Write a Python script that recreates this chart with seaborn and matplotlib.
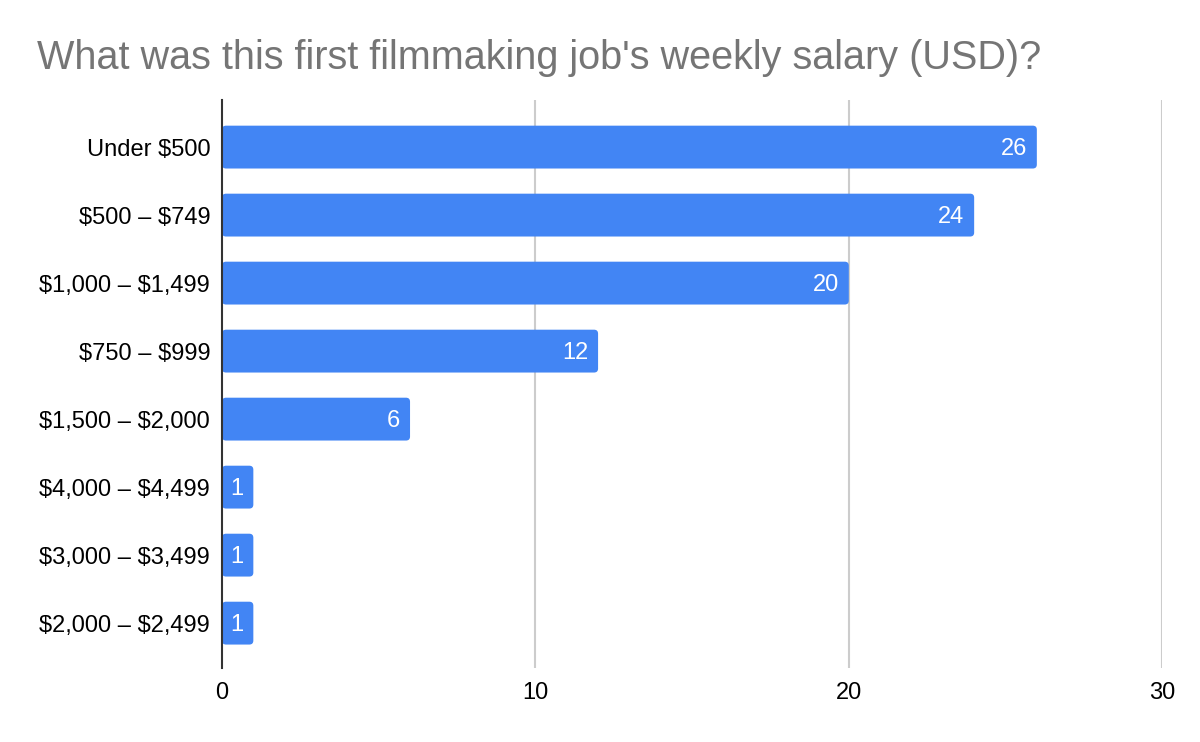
import matplotlib
matplotlib.use("Agg")
import matplotlib.pyplot as plt
import seaborn as sns
import pandas as pd
from matplotlib.patches import FancyBboxPatch

# Survey answers, ordered by count
salary_ranges = ["Under $500", "$500 – $749", "$1,000 – $1,499", "$750 – $999",
                 "$1,500 – $2,000", "$4,000 – $4,499", "$3,000 – $3,499", "$2,000 – $2,499"]
counts = [26, 24, 20, 12, 6, 1, 1, 1]
x_ticks = [0, 10, 20, 30]

df = pd.DataFrame({"Salary": salary_ranges, "Count": counts})

sns.set_style("white")
plt.rcParams["font.family"] = ["Liberation Sans", "DejaVu Sans"]
plt.rcParams["text.parse_math"] = False  # keep the dollar signs literal

fig = plt.figure(figsize=(12, 7.42), dpi=100)
ax = fig.add_axes([0.185, 0.0997, 0.7835, 0.7653])

sns.barplot(data=df, x="Count", y="Salary", orient="h", color="#4285F4",
            saturation=1, width=0.63, ax=ax)

# swap square bars for slightly rounded ones
x_px = ax.bbox.width / 30
y_px = ax.bbox.height / 8.35
for p in list(ax.patches):
    x, y, w, h = p.get_x(), p.get_y(), p.get_width(), p.get_height()
    fb = FancyBboxPatch((x, y), w, h,
                        boxstyle="round,pad=0,rounding_size=%f" % (4 / x_px),
                        mutation_aspect=x_px / y_px,
                        facecolor="#4285F4", edgecolor="none", zorder=2)
    ax.add_patch(fb)
    p.set_visible(False)

for val, p in zip(counts, ax.containers[0]):
    ax.annotate(str(val), (p.get_x() + p.get_width(), p.get_y() + p.get_height() / 2),
                xytext=(-7, -1.3), textcoords="offset points", ha="right", va="center",
                color="white", fontsize=17, zorder=3)

ax.set_xlim(0, 30)
ax.set_ylim(7.66, -0.69)
ax.set_xticks(x_ticks)
ax.set_xlabel("")
ax.set_ylabel("")
ax.tick_params(axis="both", length=0, labelsize=17, labelcolor="#000000")
ax.tick_params(axis="y", pad=8.5)
ax.tick_params(axis="x", pad=10)
for xv in x_ticks[1:]:
    ax.axvline(xv, color="#cccccc", lw=1.5, zorder=0)
sns.despine(ax=ax, top=True, right=True, bottom=True, left=False)
ax.spines["left"].set_color("#333333")
ax.spines["left"].set_linewidth(1.5)
ax.spines["left"].set_zorder(4)

fig.text(0.031, 0.922, "What was this first filmmaking job's weekly salary (USD)?",
         fontsize=28.5, color="#757575", ha="left", va="center")

fig.savefig("out.png", dpi=100, facecolor="white")
